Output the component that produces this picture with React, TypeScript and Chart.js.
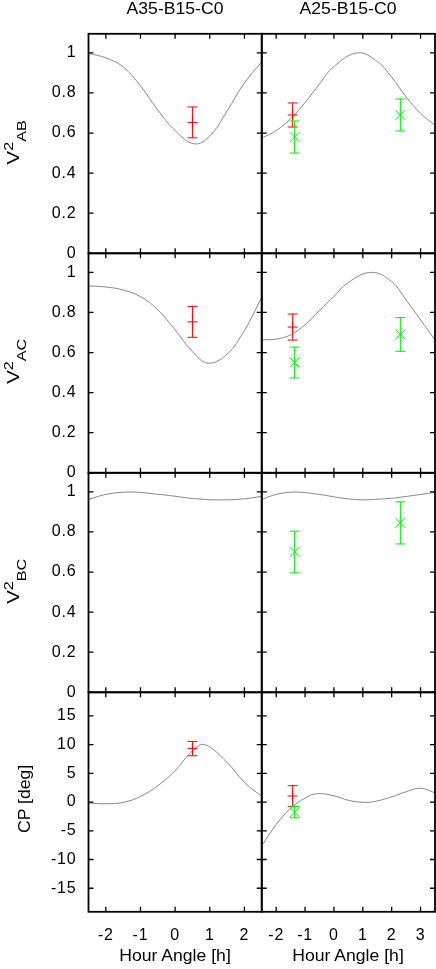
import React, { useEffect, useRef } from "react";
import { Chart, registerables } from "chart.js";

Chart.register(...registerables);

const FONT = "'Liberation Sans', Arial, Helvetica, sans-serif";

// ---------- axes ----------
const HA_MIN = -2.5;
const HA_MAX_LEFT = 2.5;
const HA_MAX_RIGHT = 3.5;
const HA_TICKS_LEFT = [-2, -1, 0, 1, 2];
const HA_TICKS_RIGHT = [-2, -1, 0, 1, 2, 3];
const V2_TICKS = [0, 0.2, 0.4, 0.6, 0.8, 1];
const CP_TICKS = [-15, -10, -5, 0, 5, 10, 15];
const V2_MIN = 0;
const V2_MAX = 1.095;
const CP_MIN = -19.1;
const CP_MAX = 19.1;

const COLUMN_TITLES = ["A35-B15-C0", "A25-B15-C0"];
const X_TITLE = "Hour Angle [h]";

// ---------- model curves : A35-B15-C0 (left column) ----------
const MODEL_AB_L_HA = [-2.5, -2, -1.5, -1, -0.5, 0, 0.55, 1, 1.5, 2, 2.5];
const MODEL_AB_L = [0.997, 0.975, 0.93, 0.835, 0.715, 0.612, 0.546, 0.585, 0.71, 0.85, 0.955];
const MODEL_AC_L_HA = [-2.5, -2, -1.5, -1, -0.5, 0, 0.5, 0.95, 1.5, 2, 2.5];
const MODEL_AC_L = [0.932, 0.927, 0.912, 0.879, 0.813, 0.713, 0.605, 0.547, 0.592, 0.71, 0.876];
const MODEL_BC_L_HA = [-2.5, -2, -1.3, -0.5, 0, 0.5, 1.2, 2, 2.5];
const MODEL_BC_L = [0.962, 0.987, 0.999, 0.988, 0.978, 0.967, 0.96, 0.965, 0.978];
const MODEL_CP_L_HA = [-2.5, -2, -1.5, -1, -0.5, 0, 0.5, 0.85, 1.5, 2, 2.5];
const MODEL_CP_L = [-0.17, -0.3, -0.06, 0.98, 2.84, 5.44, 8.9, 10.0, 6.89, 3.42, 0.98];

// ---------- model curves : A25-B15-C0 (right column) ----------
const MODEL_AB_R_HA = [-2.5, -2, -1.5, -1, -0.5, 0, 0.82, 1.5, 2, 2.5, 3, 3.5];
const MODEL_AB_R = [0.575, 0.612, 0.672, 0.752, 0.845, 0.932, 1.0, 0.957, 0.878, 0.78, 0.698, 0.638];
const MODEL_AC_R_HA = [-2.5, -2, -1.5, -1, -0.5, 0, 0.5, 1.3, 2, 2.5, 3, 3.5];
const MODEL_AC_R = [0.663, 0.667, 0.688, 0.738, 0.81, 0.88, 0.95, 1.0, 0.954, 0.862, 0.763, 0.663];
const MODEL_BC_R_HA = [-2.5, -2, -1.35, -0.5, 0, 0.5, 1, 1.5, 2, 2.5, 3, 3.5];
const MODEL_BC_R = [0.962, 0.987, 0.999, 0.987, 0.975, 0.965, 0.96, 0.963, 0.968, 0.977, 0.987, 0.997];
const MODEL_CP_R_HA = [-2.5, -2, -1.5, -1, -0.6, 0, 0.5, 1.1, 1.5, 2, 2.5, 3, 3.5];
const MODEL_CP_R = [-7.6, -3.9, -1.1, 0.7, 1.45, 1.1, 0.3, -0.06, 0.2, 0.9, 1.8, 2.4, 1.6];

// ---------- observations (red) ----------
const RED_HA_L = [0.5];
const RED_AB_L = [0.653];
const RED_AB_L_ERR = [0.077];
const RED_AC_L = [0.753];
const RED_AC_L_ERR = [0.077];
const RED_CP_L = [9.3];
const RED_CP_L_ERR = [1.25];

const RED_HA_R = [-1.43];
const RED_AB_R = [0.69];
const RED_AB_R_ERR = [0.06];
const RED_AC_R = [0.727];
const RED_AC_R_ERR = [0.065];
const RED_CP_R = [1.05];
const RED_CP_R_ERR = [1.8];

// ---------- observations (green) ----------
const GREEN_HA_R = [-1.36, 2.3];
const GREEN_AB_R = [0.58, 0.69];
const GREEN_AB_R_ERR = [0.08, 0.08];
const GREEN_AC_R = [0.55, 0.69];
const GREEN_AC_R_ERR = [0.077, 0.084];
const GREEN_BC_R = [0.7, 0.845];
const GREEN_BC_R_ERR = [0.104, 0.105];
const GREEN_CP_HA_R = [-1.36];
const GREEN_CP_R = [-1.75];
const GREEN_CP_R_ERR = [1.0];

// ---------- layout ----------
const W = 436;
const H = 969;
const PLOT_L = 88.5;
const COL_W = 173.25;
const PLOT_T = 33.8;
const ROW_H = 219.5;
const X_AXIS_H = 40;
const TICK_LEN = 5;
const CAP = 5;

const RED = "#ff0000";
const GREEN = "#00ee00";
const MODEL = "#888888";

type Obs = { x: number[]; y: number[]; e: number[] } | null;
type Spec = {
  row: number;
  col: number;
  mx: number[];
  my: number[];
  red: Obs;
  green: Obs;
  kind: "v2" | "cp";
};

const PANELS: Spec[] = [
  { row: 0, col: 0, mx: MODEL_AB_L_HA, my: MODEL_AB_L, red: { x: RED_HA_L, y: RED_AB_L, e: RED_AB_L_ERR }, green: null, kind: "v2" },
  { row: 0, col: 1, mx: MODEL_AB_R_HA, my: MODEL_AB_R, red: { x: RED_HA_R, y: RED_AB_R, e: RED_AB_R_ERR }, green: { x: GREEN_HA_R, y: GREEN_AB_R, e: GREEN_AB_R_ERR }, kind: "v2" },
  { row: 1, col: 0, mx: MODEL_AC_L_HA, my: MODEL_AC_L, red: { x: RED_HA_L, y: RED_AC_L, e: RED_AC_L_ERR }, green: null, kind: "v2" },
  { row: 1, col: 1, mx: MODEL_AC_R_HA, my: MODEL_AC_R, red: { x: RED_HA_R, y: RED_AC_R, e: RED_AC_R_ERR }, green: { x: GREEN_HA_R, y: GREEN_AC_R, e: GREEN_AC_R_ERR }, kind: "v2" },
  { row: 2, col: 0, mx: MODEL_BC_L_HA, my: MODEL_BC_L, red: null, green: null, kind: "v2" },
  { row: 2, col: 1, mx: MODEL_BC_R_HA, my: MODEL_BC_R, red: null, green: { x: GREEN_HA_R, y: GREEN_BC_R, e: GREEN_BC_R_ERR }, kind: "v2" },
  { row: 3, col: 0, mx: MODEL_CP_L_HA, my: MODEL_CP_L, red: { x: RED_HA_L, y: RED_CP_L, e: RED_CP_L_ERR }, green: null, kind: "cp" },
  { row: 3, col: 1, mx: MODEL_CP_R_HA, my: MODEL_CP_R, red: { x: RED_HA_R, y: RED_CP_R, e: RED_CP_R_ERR }, green: { x: GREEN_CP_HA_R, y: GREEN_CP_R, e: GREEN_CP_R_ERR }, kind: "cp" },
];

const errorBarPlugin = {
  id: "errorBars",
  afterDatasetsDraw(chart: any) {
    const { ctx } = chart;
    const xs = chart.scales.x;
    const ys = chart.scales.y;
    chart.data.datasets.forEach((ds: any) => {
      if (!ds.errors) return;
      ctx.save();
      ctx.strokeStyle = ds.borderColor;
      ctx.lineWidth = 1;
      ds.data.forEach((p: any, i: number) => {
        const px = xs.getPixelForValue(p.x);
        const lo = ys.getPixelForValue(p.y - ds.errors[i]);
        const hi = ys.getPixelForValue(p.y + ds.errors[i]);
        ctx.beginPath();
        ctx.moveTo(px, lo);
        ctx.lineTo(px, hi);
        ctx.moveTo(px - CAP, lo);
        ctx.lineTo(px + CAP, lo);
        ctx.moveTo(px - CAP, hi);
        ctx.lineTo(px + CAP, hi);
        ctx.stroke();
      });
      ctx.restore();
    });
  },
};

const framePlugin = {
  id: "frame",
  beforeDraw(chart: any) {
    (chart.ctx as any).letterSpacing = "0.8px";
  },
  afterDatasetsDraw(chart: any) {
    const { ctx, chartArea: a } = chart;
    const xs = chart.scales.x;
    const ys = chart.scales.y;
    ctx.save();
    ctx.strokeStyle = "#000";
    ctx.lineWidth = 1.3;
    ctx.beginPath();
    xs.ticks.forEach((t: any) => {
      const px = xs.getPixelForValue(t.value);
      ctx.moveTo(px, a.top);
      ctx.lineTo(px, a.top + TICK_LEN);
      ctx.moveTo(px, a.bottom);
      ctx.lineTo(px, a.bottom - TICK_LEN);
    });
    ys.ticks.forEach((t: any) => {
      const py = ys.getPixelForValue(t.value);
      ctx.moveTo(a.left, py);
      ctx.lineTo(a.left + TICK_LEN, py);
      ctx.moveTo(a.right, py);
      ctx.lineTo(a.right - TICK_LEN, py);
    });
    ctx.stroke();
    ctx.lineWidth = 1.8;
    ctx.strokeRect(a.left, a.top, a.right - a.left, a.bottom - a.top);
    ctx.restore();
  },
};

function zeroPadding(sc: any) {
  sc.paddingLeft = 0;
  sc.paddingRight = 0;
  sc.paddingTop = 0;
  sc.paddingBottom = 0;
}

function buildConfig(s: Spec): any {
  const isBottom = s.row === 3;
  const isLeft = s.col === 0;
  const top = PLOT_T + s.row * ROW_H;
  const bottom = top + ROW_H;
  const left = PLOT_L + s.col * COL_W;
  const right = left + COL_W;
  const xTicks = isLeft ? HA_TICKS_LEFT : HA_TICKS_RIGHT;
  const yTicks = s.kind === "v2" ? V2_TICKS : CP_TICKS;

  const datasets: any[] = [];
  if (s.red) {
    datasets.push({
      data: s.red.x.map((x, i) => ({ x, y: s.red!.y[i] })),
      errors: s.red.e,
      borderColor: RED,
      backgroundColor: RED,
      pointStyle: "cross",
      pointRadius: 5,
      pointBorderWidth: 1,
      showLine: false,
    });
  }
  if (s.green) {
    datasets.push({
      data: s.green.x.map((x, i) => ({ x, y: s.green!.y[i] })),
      errors: s.green.e,
      borderColor: GREEN,
      backgroundColor: GREEN,
      pointStyle: "crossRot",
      pointRadius: 7,
      pointBorderWidth: 1,
      showLine: false,
    });
  }
  datasets.push({
    data: s.mx.map((x, i) => ({ x, y: s.my[i] })),
    borderColor: MODEL,
    borderWidth: 1,
    pointRadius: 0,
    showLine: true,
    tension: 0.4,
  });

  const tickFont = { family: FONT, size: 16 };

  return {
    type: "scatter",
    data: { datasets },
    options: {
      animation: false,
      responsive: false,
      devicePixelRatio: 1,
      events: [],
      layout: {
        autoPadding: false,
        padding: {
          left: isLeft ? 0 : left,
          right: W - right,
          top: top,
          bottom: H - bottom - (isBottom ? X_AXIS_H : 0),
        },
      },
      plugins: {
        legend: { display: false },
        tooltip: { enabled: false },
        title: { display: false },
      },
      scales: {
        x: {
          type: "linear",
          min: HA_MIN,
          max: isLeft ? HA_MAX_LEFT : HA_MAX_RIGHT,
          grid: { display: false, drawTicks: false, tickLength: 0 },
          border: { display: false },
          ticks: {
            display: isBottom,
            color: "#000",
            font: tickFont,
            padding: 14,
            maxRotation: 0,
            autoSkip: false,
            callback: (v: number) => String(v),
          },
          afterBuildTicks: (sc: any) => {
            sc.ticks = xTicks.map((v) => ({ value: v }));
          },
          afterFit: (sc: any) => {
            sc.height = isBottom ? X_AXIS_H : 0;
            zeroPadding(sc);
          },
        },
        y: {
          type: "linear",
          min: s.kind === "v2" ? V2_MIN : CP_MIN,
          max: s.kind === "v2" ? V2_MAX : CP_MAX,
          grid: { display: false, drawTicks: false, tickLength: 0 },
          border: { display: false },
          ticks: {
            display: isLeft,
            color: "#000",
            font: tickFont,
            padding: 12,
            autoSkip: false,
            callback: (v: number) => String(v),
          },
          afterBuildTicks: (sc: any) => {
            sc.ticks = yTicks.map((v) => ({ value: v }));
          },
          afterFit: (sc: any) => {
            sc.width = isLeft ? PLOT_L : 0;
            zeroPadding(sc);
          },
        },
      },
    },
    plugins: [errorBarPlugin, framePlugin],
  };
}

function Panel({ spec }: { spec: Spec }) {
  const ref = useRef<HTMLCanvasElement>(null);
  useEffect(() => {
    if (!ref.current) return;
    const chart = new Chart(ref.current, buildConfig(spec));
    return () => chart.destroy();
  }, [spec]);
  return (
    <canvas
      ref={ref}
      width={W}
      height={H}
      style={{ position: "absolute", left: 0, top: 0, width: W, height: H }}
    />
  );
}

const textBase: React.CSSProperties = {
  position: "absolute",
  fontFamily: FONT,
  fontSize: 16,
  lineHeight: "16px",
  color: "#000",
  whiteSpace: "nowrap",
};

function RowLabel({ cy, x, stretch, children }: { cy: number; x: number; stretch: number; children: React.ReactNode }) {
  return (
    <div
      style={{
        ...textBase,
        left: x,
        top: cy,
        transformOrigin: "0 0",
        transform: `rotate(-90deg) translateX(-50%) scaleX(${stretch})`,
      }}
    >
      {children}
    </div>
  );
}

function V2Label({ sub }: { sub: string }) {
  return (
    <>
      <span style={{ fontSize: 17 }}>V</span>
      <span style={{ fontSize: 13.5, position: "relative", top: -6 }}>2</span>
      <span style={{ fontSize: 13.5, position: "relative", top: 7 }}>{sub}</span>
    </>
  );
}

export default function App() {
  useEffect(() => {
    document.body.style.margin = "0";
    document.documentElement.style.overflow = "hidden";
  }, []);
  const rowCenter = (r: number) => PLOT_T + r * ROW_H + ROW_H / 2;
  const colCenter = (c: number) => PLOT_L + c * COL_W + COL_W / 2;
  return (
    <div style={{ position: "absolute", left: 0, top: 0, width: W, height: H, overflow: "hidden", background: "#fff" }}>
      {PANELS.map((p, i) => (
        <Panel key={i} spec={p} />
      ))}
      {COLUMN_TITLES.map((t, c) => (
        <div key={t} style={{ ...textBase, left: colCenter(c), top: 1, transform: "translateX(-50%) scaleX(1.1)" }}>
          {t}
        </div>
      ))}
      {[0, 1].map((c) => (
        <div key={c} style={{ ...textBase, left: colCenter(c), top: 947.5, transform: "translateX(-50%) scaleX(1.1)" }}>
          {X_TITLE}
        </div>
      ))}
      <RowLabel cy={rowCenter(0) + 2} x={6} stretch={1.2}>
        <V2Label sub="AB" />
      </RowLabel>
      <RowLabel cy={rowCenter(1) + 2} x={6} stretch={1.2}>
        <V2Label sub="AC" />
      </RowLabel>
      <RowLabel cy={rowCenter(2) + 2} x={6} stretch={1.2}>
        <V2Label sub="BC" />
      </RowLabel>
      <RowLabel cy={rowCenter(3)} x={17} stretch={1.1}>
        CP [deg]
      </RowLabel>
    </div>
  );
}
